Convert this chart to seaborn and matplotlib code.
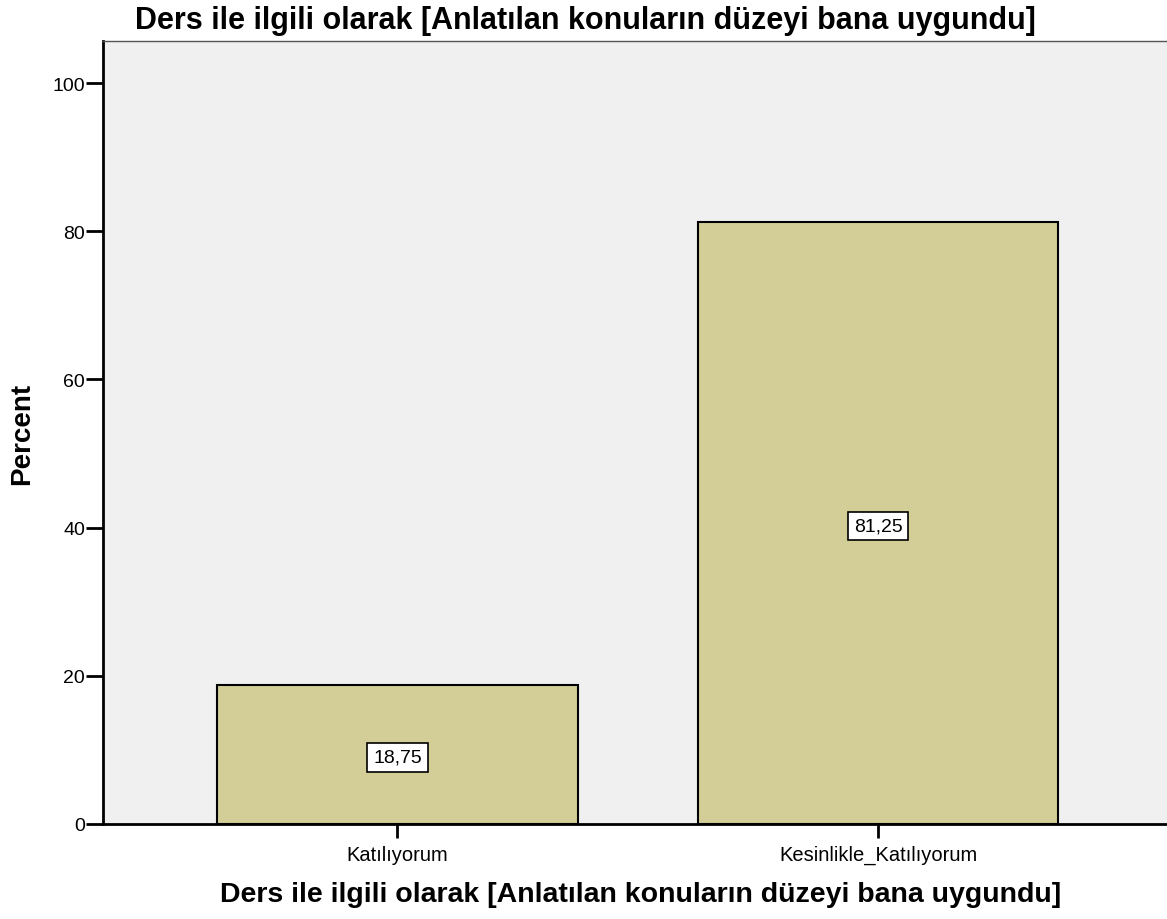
import matplotlib
matplotlib.use("Agg")
import matplotlib.pyplot as plt
import seaborn as sns
import pandas as pd

categories = ["Katılıyorum", "Kesinlikle_Katılıyorum"]
percents = [18.75, 81.25]
yticks = [0, 20, 40, 60, 80, 100]
title = "Ders ile ilgili olarak [Anlatılan konuların düzeyi bana uygundu]"

sns.set_theme(style="white")
plt.rcParams['font.family'] = ['Liberation Sans', 'DejaVu Sans']
plt.rcParams['text.color'] = 'black'
plt.rcParams['axes.labelcolor'] = 'black'
plt.rcParams['xtick.color'] = 'black'
plt.rcParams['ytick.color'] = 'black'

df = pd.DataFrame({"cat": categories, "pct": percents})

fig = plt.figure(figsize=(11.67, 9.2), dpi=100)
ax = fig.add_axes([103/1167, 95/920, 1 - 103/1167 + 0.01, 783/920])
ax.set_facecolor("#F0F0F0")

sns.barplot(data=df, x="cat", y="pct", ax=ax, color="#D3CE97", saturation=1,
            width=0.75, edgecolor="black", linewidth=1.5, errorbar=None)

for i, v in enumerate(percents):
    ax.text(i, v / 2 - 0.4, f"{v:.2f}".replace(".", ","), ha="center", va="center",
            fontsize=14, color="black",
            bbox=dict(boxstyle="square,pad=0.3", fc="white", ec="black", lw=1.2))

ax.set_xlim(-0.6125, 1.625)
ax.set_ylim(0, 105.67)
ax.set_yticks(yticks)
ax.set_yticklabels([str(t) for t in yticks], fontsize=14)
ax.tick_params(axis="y", which="both", direction="out", length=12, width=2,
               color="black", left=True, pad=1)
ax.tick_params(axis="x", which="both", direction="out", length=10, width=2,
               color="black", bottom=True, labelsize=14.5, pad=5)

for s in ["left", "bottom"]:
    ax.spines[s].set_color("black")
    ax.spines[s].set_linewidth(2)
ax.spines["top"].set_color("#555555")
ax.spines["top"].set_linewidth(1)
ax.spines["right"].set_visible(False)

ax.set_xlabel(title, fontsize=20.5, fontweight="bold")
ax.xaxis.set_label_coords((103 + 1178) / 2 / 1167, 1 - 895/920, transform=fig.transFigure)
ax.xaxis.label.set_va("center")
ax.set_ylabel("Percent", fontsize=20, fontweight="bold")
ax.yaxis.set_label_coords(22/1167, 1 - 434/920, transform=fig.transFigure)
ax.yaxis.label.set_va("center")
fig.text(585/1167, 1 - 21/920, title, ha="center", va="center",
         fontsize=22, fontweight="bold")

fig.savefig("out.png", dpi=100)
